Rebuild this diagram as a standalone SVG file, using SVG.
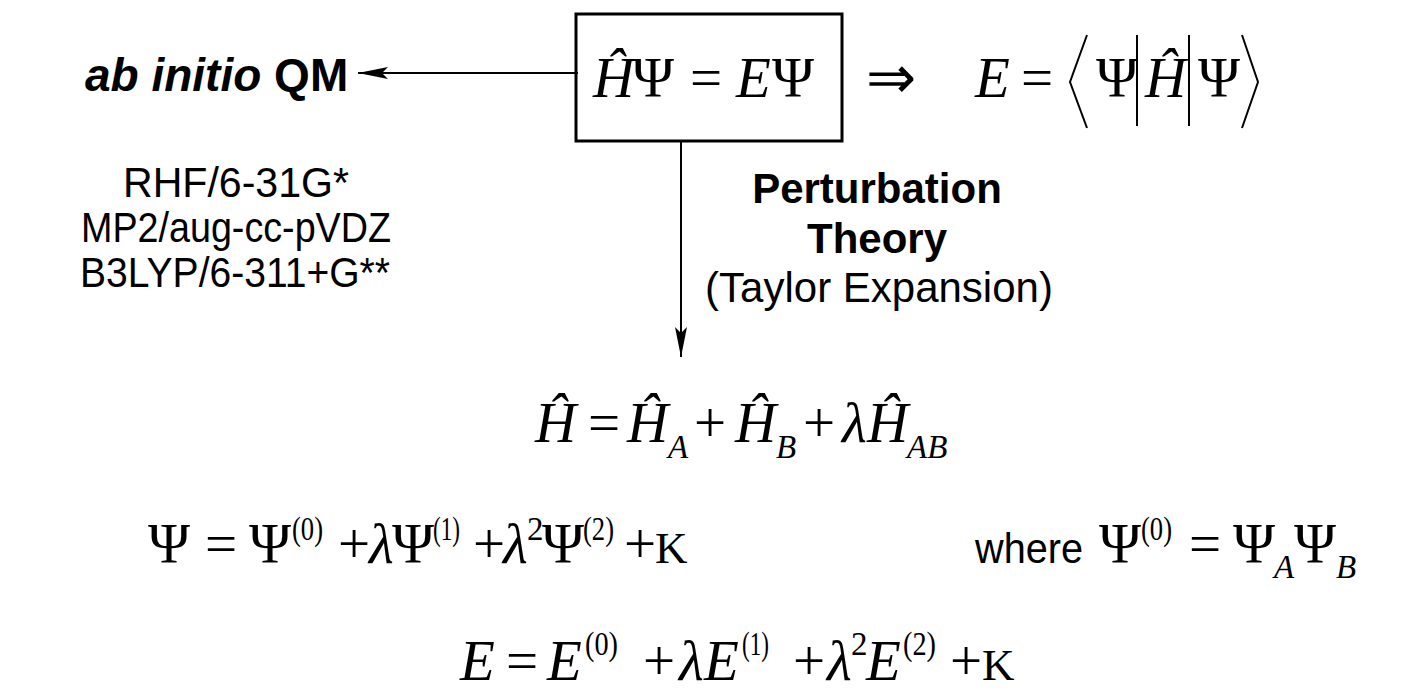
<svg xmlns="http://www.w3.org/2000/svg" width="1424" height="695" viewBox="0 0 1424 695">
<style>
.m{font-family:"Liberation Serif","Times New Roman",serif;font-size:57px;fill:#000}
.i{font-style:italic}
.sp{font-size:33px}
.t{font-family:"Liberation Sans",Arial,sans-serif;font-size:42px;fill:#000}
.b{font-weight:bold}
.big{font-size:46px}
.arr{font-size:60px}
.k{font-family:"Liberation Serif","Times New Roman",serif;font-size:45px}
.ln{stroke:#000;stroke-width:2;fill:none}
</style>
<defs>
<marker id="ah" markerWidth="32" markerHeight="12" refX="30" refY="6" orient="auto" markerUnits="userSpaceOnUse">
<path d="M0,0 L30,6 L0,12 L6,6 Z" fill="#000"/>
</marker>
</defs>
<g id="connectors">
<line class="ln" x1="578" y1="73" x2="358" y2="73" marker-end="url(#ah)"/>
<line class="ln" x1="681" y1="141" x2="681" y2="357" marker-end="url(#ah)"/>
</g>
<g id="schrodinger">
<rect x="576" y="14" width="266" height="127" fill="none" stroke="#000" stroke-width="3"/>
<text class="m i" x="593" y="97">Ĥ</text>
<text class="m" x="632" y="97">Ψ</text>
<text class="m" x="690" y="97">=</text>
<text class="m i" x="736" y="97">E</text>
<text class="m" x="772" y="97">Ψ</text>
</g>
<g id="implies">
<text class="m arr" x="866" y="98">⇒</text>
</g>
<g id="expectation">
<text class="m i" x="975" y="97">E</text>
<text class="m" x="1021" y="97">=</text>
<polyline class="ln" points="1087,35 1070,82 1087,128"/>
<text class="m" x="1096" y="97">Ψ</text>
<line class="ln" x1="1137" y1="35" x2="1137" y2="126"/>
<text class="m i" x="1145" y="97">Ĥ</text>
<line class="ln" x1="1189" y1="35" x2="1189" y2="126"/>
<text class="m" x="1198" y="97">Ψ</text>
<polyline class="ln" points="1242,35 1258,82 1242,128"/>
</g>
<g id="abinitio">
<text class="t b big" x="85" y="91"><tspan font-style="italic">ab initio</tspan> QM</text>
</g>
<g id="methods">
<text class="t" x="236" y="197" text-anchor="middle" textLength="226" lengthAdjust="spacingAndGlyphs">RHF/6-31G*</text>
<text class="t" x="236" y="242" text-anchor="middle" textLength="310" lengthAdjust="spacingAndGlyphs">MP2/aug-cc-pVDZ</text>
<text class="t" x="235" y="287" text-anchor="middle" textLength="310" lengthAdjust="spacingAndGlyphs">B3LYP/6-311+G**</text>
</g>
<g id="perturbation">
<text class="t b" x="877" y="203" text-anchor="middle">Perturbation</text>
<text class="t b" x="877" y="253" text-anchor="middle">Theory</text>
<text class="t" x="879" y="302" text-anchor="middle">(Taylor Expansion)</text>
</g>
<g id="hamiltonian">
<text class="m i" x="535" y="442">Ĥ</text>
<text class="m" x="588" y="442">=</text>
<text class="m i" x="627" y="442">Ĥ</text>
<text class="m i sp" x="668" y="458">A</text>
<text class="m" x="694" y="442">+</text>
<text class="m i" x="735" y="442">Ĥ</text>
<text class="m i sp" x="776" y="458">B</text>
<text class="m" x="803" y="442">+</text>
<text class="m i" x="842" y="442">λ</text>
<text class="m i" x="867" y="442">Ĥ</text>
<text class="m i sp" x="907" y="458">AB</text>
</g>
<g id="wavefunction">
<text class="m" x="148" y="563">Ψ</text>
<text class="m" x="205" y="563">=</text>
<text class="m" x="249" y="563">Ψ</text>
<text class="m sp" x="292" y="540" textLength="31" lengthAdjust="spacingAndGlyphs">(0)</text>
<text class="m" x="338" y="563">+</text>
<text class="m i" x="369" y="563">λ</text>
<text class="m" x="392" y="563">Ψ</text>
<text class="m sp" x="433" y="540" textLength="27" lengthAdjust="spacingAndGlyphs">(1)</text>
<text class="m" x="473" y="563">+</text>
<text class="m i" x="503" y="563">λ</text>
<text class="m sp" x="527" y="540">2</text>
<text class="m" x="542" y="563">Ψ</text>
<text class="m sp" x="583" y="540" textLength="31" lengthAdjust="spacingAndGlyphs">(2)</text>
<text class="m" x="624" y="563">+</text>
<text class="k" x="655" y="563">K</text>
</g>
<g id="where">
<text class="t" x="975" y="563" textLength="108" lengthAdjust="spacingAndGlyphs">where</text>
<text class="m" x="1099" y="563">Ψ</text>
<text class="m sp" x="1141" y="540" textLength="31" lengthAdjust="spacingAndGlyphs">(0)</text>
<text class="m" x="1189" y="563">=</text>
<text class="m" x="1233" y="563">Ψ</text>
<text class="m i sp" x="1274" y="578">A</text>
<text class="m" x="1294" y="563">Ψ</text>
<text class="m i sp" x="1336" y="578">B</text>
</g>
<g id="energy">
<text class="m i" x="460" y="680">E</text>
<text class="m" x="506" y="680">=</text>
<text class="m i" x="547" y="680">E</text>
<text class="m sp" x="585" y="655" textLength="33" lengthAdjust="spacingAndGlyphs">(0)</text>
<text class="m" x="643" y="680">+</text>
<text class="m i" x="679" y="680">λ</text>
<text class="m i" x="704" y="680">E</text>
<text class="m sp" x="742" y="655" textLength="27" lengthAdjust="spacingAndGlyphs">(1)</text>
<text class="m" x="793" y="680">+</text>
<text class="m i" x="827" y="680">λ</text>
<text class="m sp" x="851" y="655">2</text>
<text class="m i" x="866" y="680">E</text>
<text class="m sp" x="903" y="655" textLength="33" lengthAdjust="spacingAndGlyphs">(2)</text>
<text class="m" x="950" y="680">+</text>
<text class="k" x="982" y="680">K</text>
</g>
</svg>
